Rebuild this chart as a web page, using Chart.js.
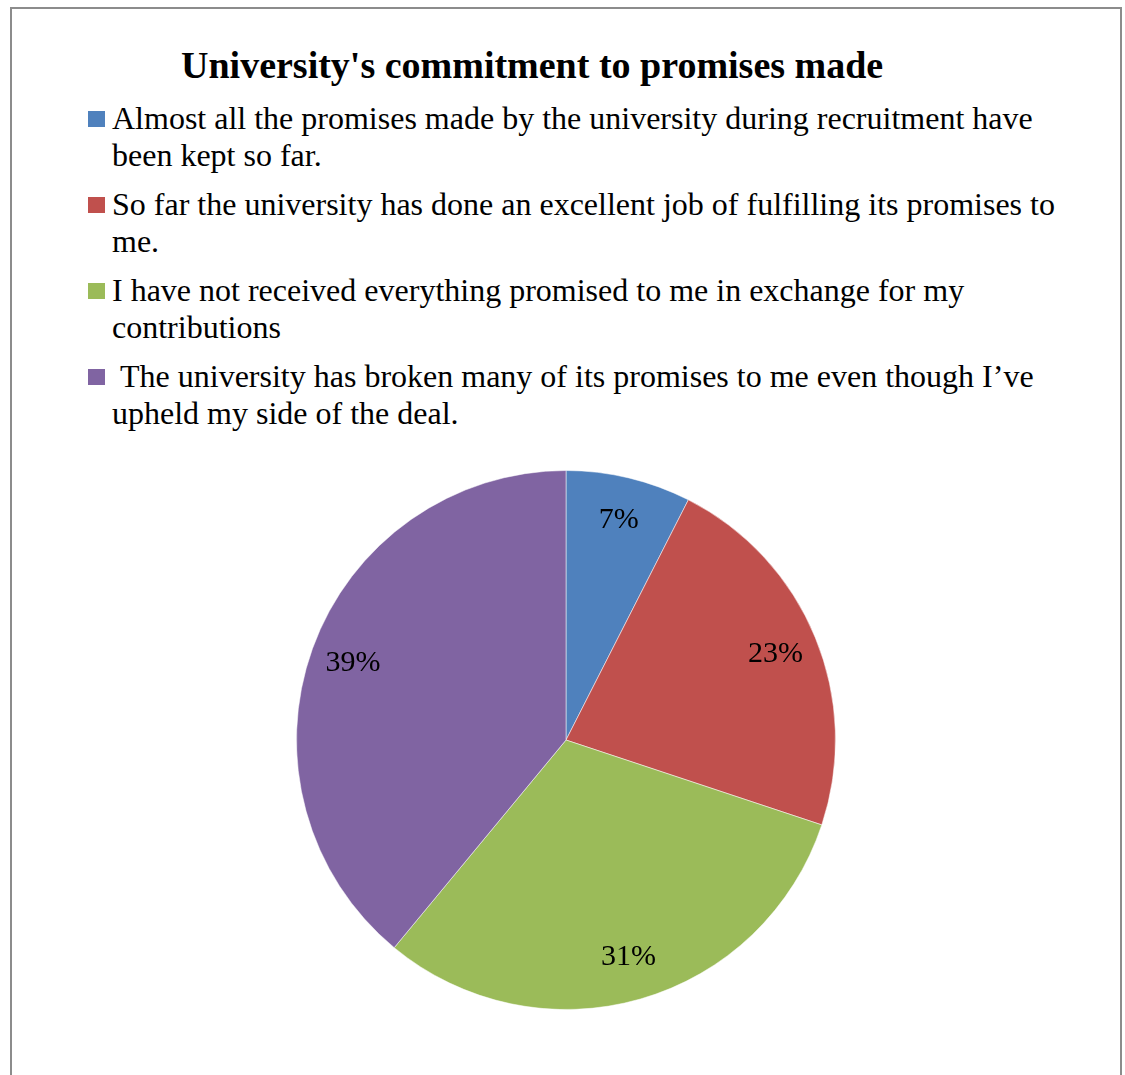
<!DOCTYPE html>
<html>
<head>
<meta charset="utf-8">
<script src="https://cdn.jsdelivr.net/npm/chart.js@4.4.1/dist/chart.umd.min.js"></script>
<style>
  body { margin: 0; background: #fff; font-family: "Liberation Serif", "Times New Roman", serif; }
  #frame { position: absolute; left: 10px; top: 7px; width: 1108px; height: 1100px; border: 2px solid #8c8c8c; border-bottom: none; }
  #title { position: absolute; left: 181px; top: 46px; font-size: 38px; font-weight: bold; line-height: 1; white-space: nowrap; color: #000; }
  #legend { position: absolute; left: 88px; top: 100px; width: 982px; }
  .item { display: flex; align-items: flex-start; margin-bottom: 12px; font-size: 32px; line-height: 37px; color: #000; }
  .box { flex: none; width: 17px; height: 16px; margin-top: 11px; margin-right: 7px; }
  #pie { position: absolute; left: 286px; top: 460px; }
</style>
</head>
<body>
<div id="frame"></div>
<div id="title">University's commitment to promises made</div>
<div id="legend"></div>
<canvas id="pie" width="560" height="560"></canvas>
<script>
const title = "University's commitment to promises made";
const categories = [
  "Almost all the promises made by the university during recruitment have been kept so far.",
  "So far the university has done an excellent job of fulfilling its promises to me.",
  "I have not received everything promised to me in exchange for my contributions",
  " The university has broken many of its promises to me even though I\u2019ve upheld my side of the deal."
];
const shares = [7.5, 22.6, 30.9, 39.0];
const pctLabels = ["7%", "23%", "31%", "39%"];
const colors = ["#4F81BD", "#C0504D", "#9BBB59", "#8064A2"];

// percent labels drawn inside each slice
const sliceLabels = {
  id: 'sliceLabels',
  afterDatasetsDraw(chart) {
    const ctx = chart.ctx;
    const meta = chart.getDatasetMeta(0);
    ctx.save();
    ctx.font = '30px "Liberation Serif", serif';
    ctx.fillStyle = '#000';
    ctx.textAlign = 'center';
    ctx.textBaseline = 'middle';
    meta.data.forEach(function (arc, i) {
      const mid = (arc.startAngle + arc.endAngle) / 2;
      const r = arc.outerRadius * 0.84;
      ctx.fillText(pctLabels[i], arc.x + Math.cos(mid) * r, arc.y + Math.sin(mid) * r);
    });
    ctx.restore();
  }
};

const chart = new Chart(document.getElementById('pie').getContext('2d'), {
  type: 'pie',
  data: {
    labels: categories,
    datasets: [{
      data: shares,
      backgroundColor: colors,
      borderColor: 'rgba(255,255,255,0.5)',
      borderWidth: 1
    }]
  },
  options: {
    responsive: false,
    animation: false,
    layout: { padding: 10 },
    plugins: {
      legend: { display: false },
      tooltip: { enabled: false },
      title: { display: false }
    }
  },
  plugins: [sliceLabels]
});

// html legend built from the chart's labels
const legend = document.getElementById('legend');
chart.data.labels.forEach(function (lab, i) {
  const item = document.createElement('div');
  item.className = 'item';
  const box = document.createElement('span');
  box.className = 'box';
  box.style.background = colors[i];
  const txt = document.createElement('span');
  txt.textContent = lab;
  txt.style.whiteSpace = 'pre-wrap';
  item.appendChild(box);
  item.appendChild(txt);
  legend.appendChild(item);
});
document.getElementById('title').textContent = title;
</script>
</body>
</html>
